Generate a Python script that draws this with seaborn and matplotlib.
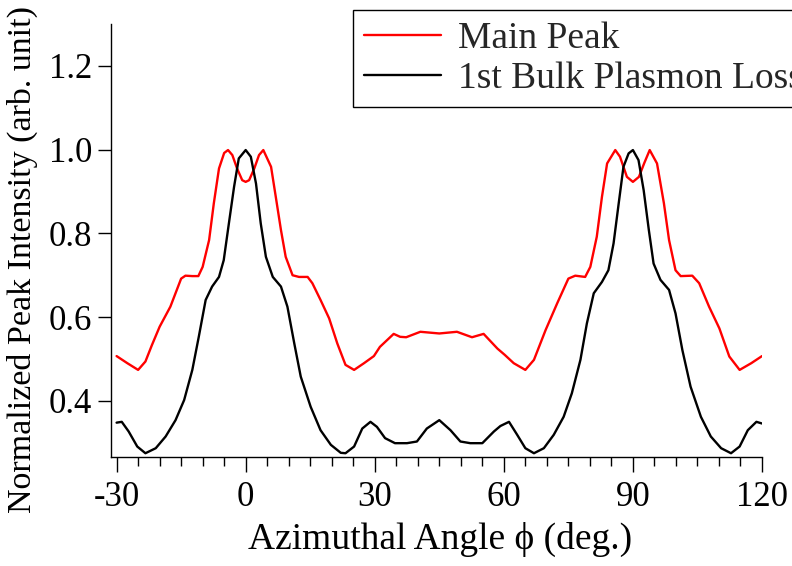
import numpy as np
import pandas as pd
import matplotlib
matplotlib.use("Agg")
import matplotlib.pyplot as plt
import seaborn as sns

# ---- data ----
main_x = [-30, -27.5, -25, -23.3, -21.8, -20, -17.5, -15, -14, -12.4, -11, -10, -8.5,
          -7.4, -6.2, -5, -4.1, -3.1, -2, -0.8, 0, 0.8, 2, 3.1, 4.1, 5.9, 7.0, 8.2,
          9.3, 10.9, 12.4, 14.4, 15.5, 17.4, 19.4, 21.3, 23.2, 25.2, 27.5, 29.8,
          31.2, 34.4, 35.9, 37.3, 40.6, 45, 49.1, 52.6, 55.3, 58.5, 60.2, 62.3, 65,
          67, 69.7, 72.4, 75, 76.6, 78.9, 80.1, 81.6, 82.8, 84, 85.9, 87, 88.6, 90,
          91.4, 92.6, 93.9, 95.6, 97.2, 98.4, 99.9, 101.1, 103.8, 105.4, 107.7,
          110.1, 112.4, 114.8, 117.5, 120]
main_y = [0.507, 0.490, 0.474, 0.494, 0.533, 0.577, 0.625, 0.692, 0.699, 0.698, 0.698,
          0.720, 0.784, 0.872, 0.955, 0.992, 0.999, 0.987, 0.955, 0.927, 0.923, 0.927,
          0.955, 0.987, 0.999, 0.959, 0.887, 0.808, 0.744, 0.700, 0.696, 0.696, 0.681,
          0.641, 0.597, 0.537, 0.486, 0.474, 0.490, 0.507, 0.529, 0.560, 0.553, 0.552,
          0.565, 0.561, 0.565, 0.552, 0.560, 0.525, 0.510, 0.490, 0.474, 0.498, 0.569,
          0.633, 0.692, 0.699, 0.696, 0.720, 0.792, 0.887, 0.967, 0.999, 0.983, 0.935,
          0.923, 0.935, 0.967, 0.999, 0.967, 0.872, 0.784, 0.712, 0.698, 0.699, 0.681,
          0.625, 0.573, 0.506, 0.474, 0.490, 0.507]

bulk_x = [-30, -28.8, -27.2, -25.2, -23.3, -20.9, -18.6, -16.3, -14.3, -12.4, -10.9,
          -9.3, -7.8, -6.2, -5.1, -3.9, -2.7, -1.6, 0, 1.2, 2.4, 3.5, 4.7, 6.3, 8.2,
          9.7, 11.3, 12.8, 15.1, 17.4, 19.8, 22.1, 23.2, 25.2, 27.1, 29, 30.5, 32.4,
          34.7, 37.5, 39.8, 42.1, 45, 47.6, 49.9, 52.2, 55, 57.7, 59.2, 61.2, 63.1, 65,
          67, 69.3, 71.6, 73.9, 75.8, 77.8, 79.3, 80.9, 82.8, 84.3, 85.5, 86.7, 87.8,
          89, 90, 91.3, 92.5, 93.7, 94.8, 96.4, 98.4, 99.9, 101.5, 103.4, 105.8,
          108.1, 110.5, 112.8, 114.8, 116.7, 118.7, 120]
bulk_y = [0.348, 0.350, 0.327, 0.291, 0.275, 0.287, 0.315, 0.354, 0.402, 0.474, 0.553,
          0.641, 0.673, 0.696, 0.736, 0.824, 0.911, 0.979, 0.999, 0.983, 0.919, 0.824,
          0.744, 0.696, 0.673, 0.625, 0.537, 0.458, 0.386, 0.330, 0.295, 0.276, 0.275,
          0.291, 0.334, 0.350, 0.338, 0.311, 0.299, 0.299, 0.303, 0.334, 0.354, 0.330,
          0.303, 0.299, 0.299, 0.327, 0.340, 0.350, 0.319, 0.287, 0.275, 0.287, 0.319,
          0.362, 0.418, 0.498, 0.585, 0.657, 0.684, 0.712, 0.776, 0.872, 0.959, 0.991,
          0.999, 0.975, 0.903, 0.808, 0.728, 0.689, 0.665, 0.609, 0.521, 0.434, 0.362,
          0.315, 0.287, 0.275, 0.291, 0.330, 0.350, 0.346]

series_names = ["Main Peak", "1st Bulk Plasmon Loss"]
series_colors = ["#ff0000", "#000000"]
x_ticks = [-30, 0, 30, 60, 90, 120]
y_ticks = [0.4, 0.6, 0.8, 1.0, 1.2]

df = pd.concat([
    pd.DataFrame({"phi": main_x, "I": main_y, "series": series_names[0]}),
    pd.DataFrame({"phi": bulk_x, "I": bulk_y, "series": series_names[1]}),
], ignore_index=True)

sns.set_theme(style="ticks")
plt.rcParams["font.family"] = ["Liberation Serif", "DejaVu Serif"]

fig = plt.figure(figsize=(7.92, 5.66), dpi=100)
ax = fig.add_axes([111 / 792, 1 - 457 / 566, 651 / 792, 433 / 566])

sns.lineplot(data=df, x="phi", y="I", hue="series", hue_order=series_names,
             palette=dict(zip(series_names, series_colors)), estimator=None,
             sort=True, linewidth=1.7, ax=ax)
for ln in ax.get_lines():
    ln.set_solid_joinstyle("round")

ax.set_xlim(-31.3, 120)
ax.set_ylim(0.266, 1.30)
ax.set_xticks(x_ticks)
ax.set_xticklabels([str(t) for t in x_ticks])
ax.set_xticks(np.arange(-30, 121, 5), minor=True)
ax.set_yticks(y_ticks)
ax.set_yticklabels([f"{t:.1f}" for t in y_ticks])

for s in ["top", "right"]:
    ax.spines[s].set_visible(False)
for s in ["left", "bottom"]:
    ax.spines[s].set_linewidth(1.0)
    ax.spines[s].set_color("black")

ax.tick_params(axis="x", which="major", direction="out", length=11, width=1.0,
               pad=6, labelsize=25, colors="black")
ax.tick_params(axis="x", which="minor", direction="out", length=6.5, width=1.0,
               colors="black")
ax.tick_params(axis="y", which="major", direction="out", length=9.5, width=1.0,
               pad=4, labelsize=25, colors="black")

ax.set_xlabel("Azimuthal Angle ϕ (deg.)", fontsize=27, color="black")
ax.set_ylabel("Normalized Peak Intensity (arb. unit)", fontsize=24.5, color="black")
ax.xaxis.set_label_coords(0.505, -0.15)
ax.yaxis.set_label_coords(-0.112, 0.455)

leg = ax.legend(loc="upper left", bbox_to_anchor=(353 / 792, 1 - 10 / 566),
                bbox_transform=fig.transFigure, borderaxespad=0, fontsize=27,
                frameon=True, fancybox=False, framealpha=1, edgecolor="black",
                handlelength=2.05, handletextpad=0.45, labelspacing=0.15,
                borderpad=0.3, title=None)
leg.get_frame().set_linewidth(1.0)
for line in leg.get_lines():
    line.set_linewidth(1.7)

fig.savefig("out.png", dpi=100)
